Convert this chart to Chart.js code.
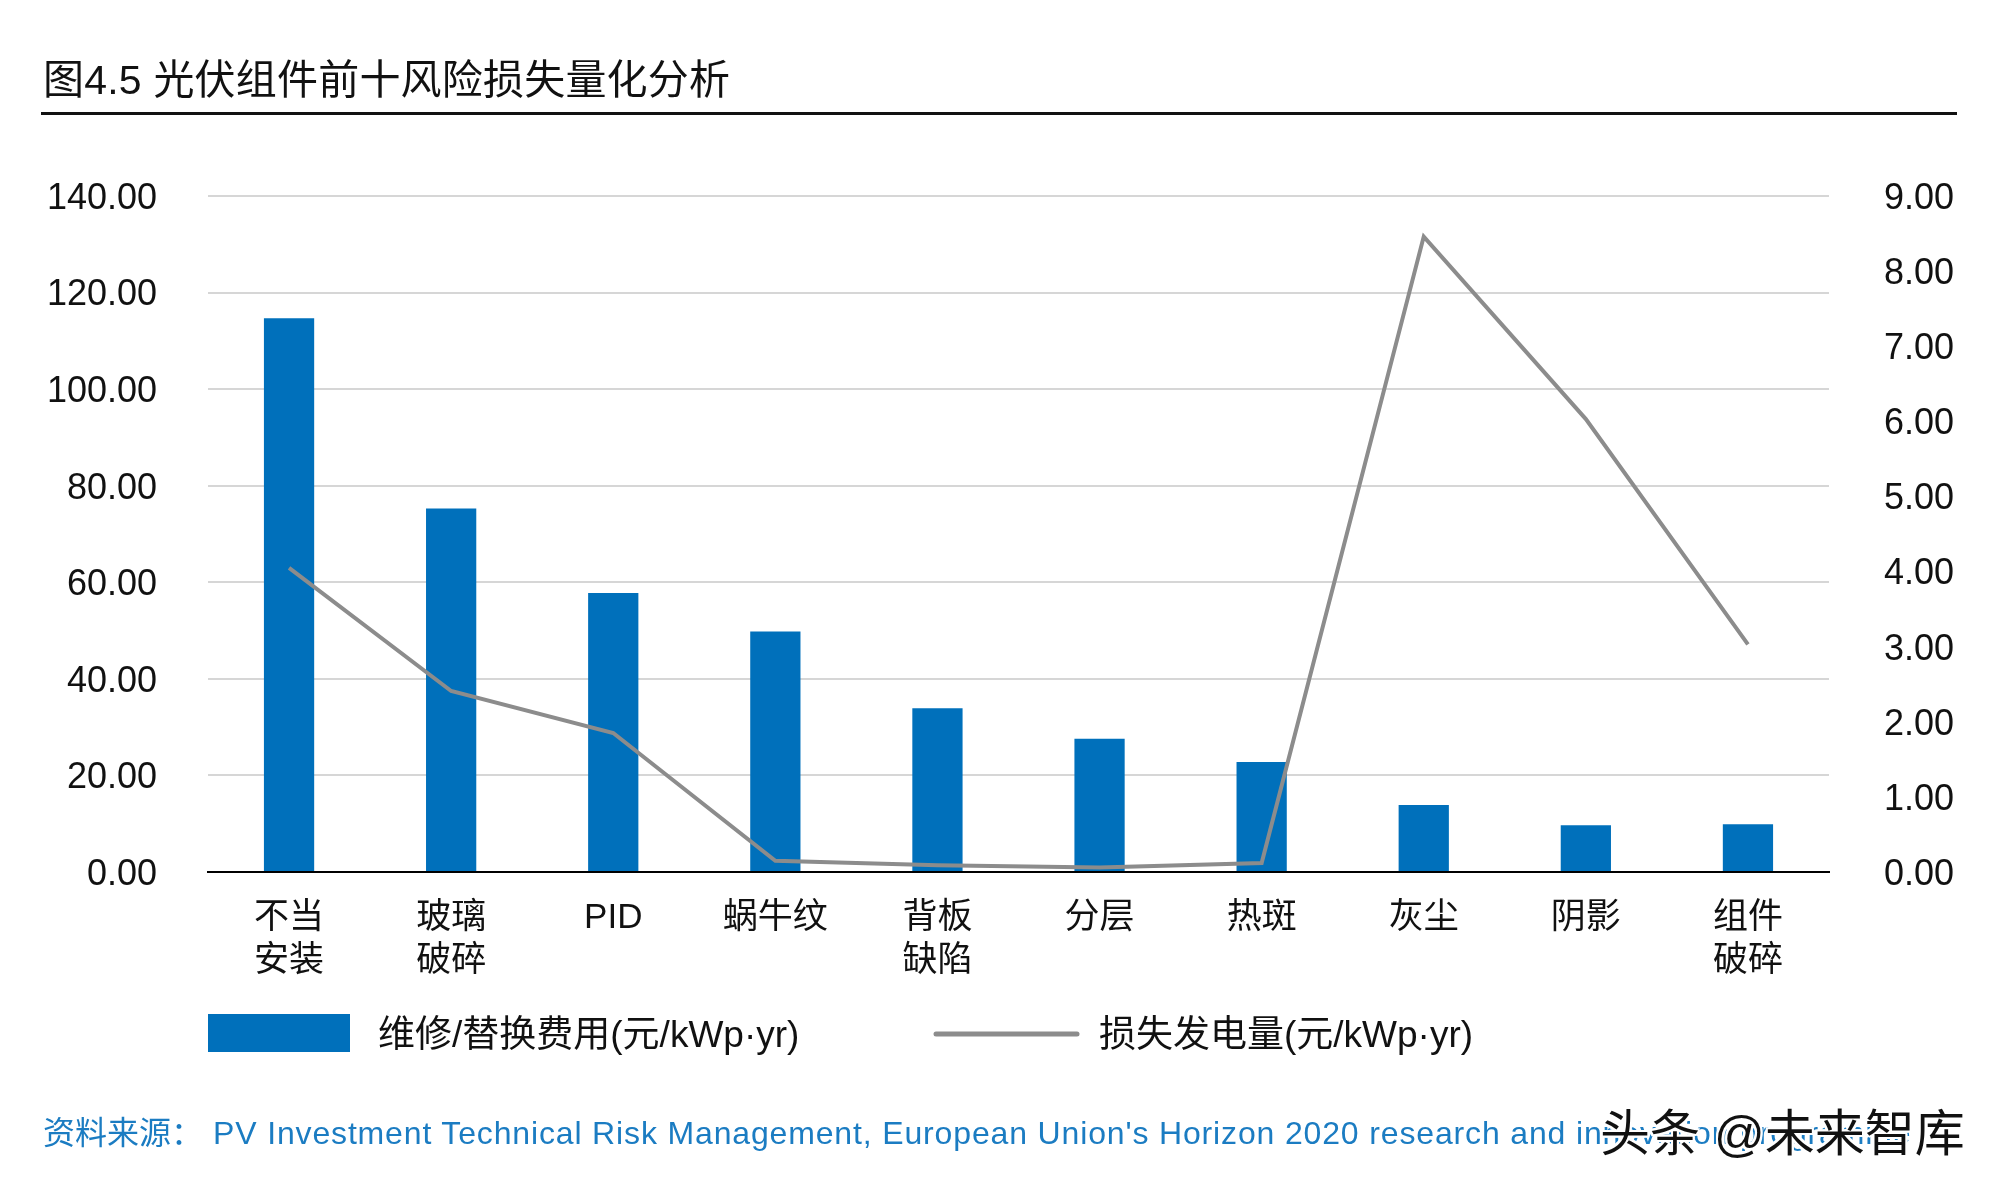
<!DOCTYPE html>
<html>
<head>
<meta charset="utf-8">
<script src="https://cdn.jsdelivr.net/npm/chart.js@4"></script>
<style>
  body { margin: 0; background: #fff; }
  #wrap { position: relative; width: 1998px; height: 1198px; overflow: hidden; font-family: "Liberation Sans", "Noto Sans CJK SC", sans-serif; }
  #grafico { position: absolute; left: 0; top: 0; }
  .titulo { position: absolute; left: 43px; top: 56px; font-size: 41px; letter-spacing: 0.2px; line-height: 48px; color: #111; white-space: nowrap; }
  .regla { position: absolute; left: 41px; top: 112px; width: 1916px; height: 3px; background: #111; }
  .fuente { position: absolute; left: 43px; top: 1114px; font-size: 32px; line-height: 38px; color: #1b7cc2; white-space: nowrap; }
  .fuente span { margin-left: 10px; letter-spacing: 0.85px; }
  .marca { position: absolute; left: 1600px; top: 1104px; font-size: 50px; line-height: 60px; color: #111; white-space: nowrap;
    text-shadow: 2px 0 #fff, -2px 0 #fff, 0 2px #fff, 0 -2px #fff, 2px 2px #fff, -2px -2px #fff, 2px -2px #fff, -2px 2px #fff; }
</style>
</head>
<body>
<div id="wrap">
  <canvas id="grafico" width="1998" height="1198"></canvas>
  <div class="titulo">图4.5 光伏组件前十风险损失量化分析</div>
  <div class="regla"></div>
  <div class="fuente">资料来源：<span>PV Investment Technical Risk Management, European Union's Horizon 2020 research and innovation programme</span></div>
  <div class="marca">头条 @未来智库</div>
</div>
<script>
const categorias = [['不当', '安装'], ['玻璃', '破碎'], 'PID', '蜗牛纹', ['背板', '缺陷'], '分层', '热斑', '灰尘', '阴影', ['组件', '破碎']];
const costoReparacion = [114.7, 75.3, 57.8, 49.8, 33.9, 27.6, 22.8, 13.9, 9.7, 9.9];
const perdidaGeneracion = [4.05, 2.41, 1.85, 0.15, 0.09, 0.06, 0.12, 8.46, 6.03, 3.03];
const etiquetaBarras = '维修/替换费用(元/kWp·yr)';
const etiquetaLinea = '损失发电量(元/kWp·yr)';

const fuenteBase = '"Liberation Sans", "Noto Sans CJK SC", sans-serif';

// leyenda dibujada a mano (caja ancha + linea)
const leyenda = {
  id: 'leyenda',
  afterDraw(chart) {
    const ctx = chart.ctx;
    const [barras, linea] = chart.data.datasets;
    ctx.save();
    ctx.font = '37px ' + fuenteBase;
    ctx.textBaseline = 'middle';
    ctx.fillStyle = barras.backgroundColor;
    ctx.fillRect(208, 1014, 142, 38);
    ctx.fillStyle = '#111';
    ctx.fillText(barras.label, 378, 1037);
    ctx.strokeStyle = linea.borderColor;
    ctx.lineWidth = 5;
    ctx.lineCap = 'round';
    ctx.beginPath();
    ctx.moveTo(936, 1034);
    ctx.lineTo(1077, 1034);
    ctx.stroke();
    ctx.fillText(linea.label, 1099, 1037);
    ctx.restore();
  }
};

const ctx = document.getElementById('grafico').getContext('2d');
new Chart(ctx, {
  data: {
    labels: categorias,
    datasets: [
      {
        type: 'bar',
        label: etiquetaBarras,
        data: costoReparacion,
        backgroundColor: '#0070bb',
        categoryPercentage: 1,
        barPercentage: 0.31,
        yAxisID: 'y',
        order: 1
      },
      {
        type: 'line',
        label: etiquetaLinea,
        data: perdidaGeneracion,
        borderColor: '#8c8c8c',
        borderWidth: 4,
        pointRadius: 0,
        tension: 0,
        yAxisID: 'y2',
        order: 0
      }
    ]
  },
  options: {
    responsive: false,
    devicePixelRatio: 1,
    animation: false,
    layout: { padding: { top: 196, left: 0, right: 0, bottom: 0 } },
    plugins: {
      legend: { display: false },
      tooltip: { enabled: false }
    },
    scales: {
      x: {
        grid: { display: false, drawTicks: false },
        border: { display: true, color: '#000', width: 2 },
        ticks: { color: '#111', padding: 25, font: { size: 35, family: fuenteBase, lineHeight: 1.23 }, maxRotation: 0, autoSkip: false },
        afterFit(scale) { scale.height = 326; }
      },
      y: {
        position: 'left',
        min: 0,
        max: 140,
        ticks: { stepSize: 20, padding: 51, labelOffset: 3, color: '#111', font: { size: 36, family: fuenteBase }, callback: v => v.toFixed(2) },
        grid: { drawTicks: false, lineWidth: 2, color: c => c.tick && c.tick.value === 0 ? 'rgba(0,0,0,0)' : '#d6d6d6' },
        border: { display: false },
        afterFit(scale) { scale.width = 208; }
      },
      y2: {
        position: 'right',
        min: 0,
        max: 9,
        ticks: { stepSize: 1, padding: 55, labelOffset: 3, color: '#111', font: { size: 36, family: fuenteBase }, callback: v => v.toFixed(2) },
        grid: { display: false, drawTicks: false },
        border: { display: false },
        afterFit(scale) { scale.width = 169; }
      }
    }
  },
  plugins: [leyenda]
});
</script>
</body>
</html>
